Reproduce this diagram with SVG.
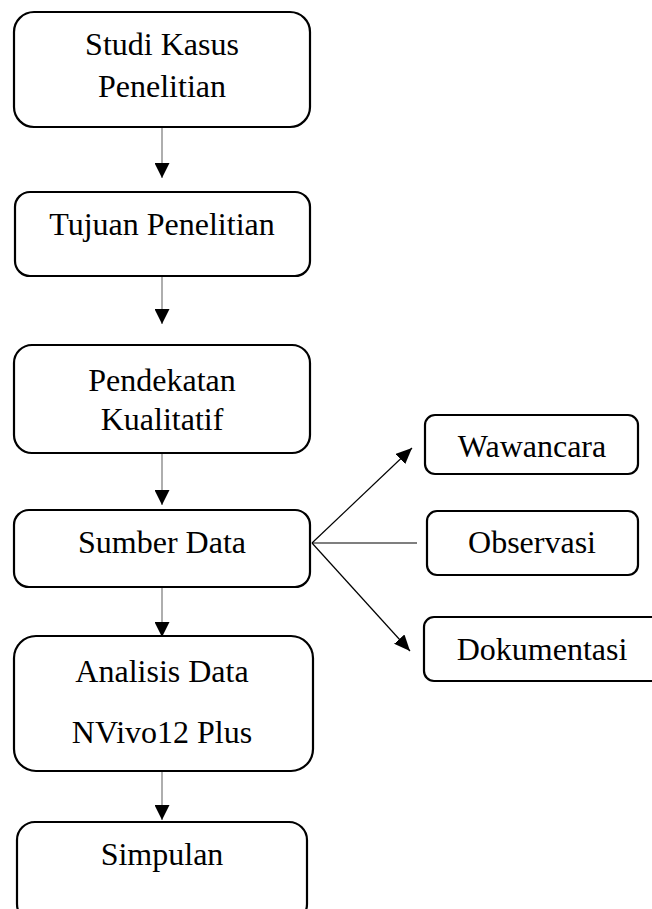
<svg xmlns="http://www.w3.org/2000/svg" width="652" height="909" viewBox="0 0 652 909">
<defs>
<style>
.box{fill:#fff;stroke:#000;stroke-width:2.2}
.t{font-family:"Liberation Serif","Times New Roman",serif;font-size:32px;fill:#000;text-anchor:middle}
.v{stroke:#9a9a9a;stroke-width:1.6;fill:none}
.d{stroke:#000;stroke-width:1.2;fill:none}
</style>
<marker id="ah" viewBox="0 0 15 15" refX="15" refY="7.5" markerWidth="15" markerHeight="15" markerUnits="userSpaceOnUse" orient="auto">
<path d="M0,0 L15,7.5 L0,15 z" fill="#000"/>
</marker>
<marker id="ah2" viewBox="0 0 16 14" refX="16" refY="7" markerWidth="16" markerHeight="14" markerUnits="userSpaceOnUse" orient="auto">
<path d="M0,0 L16,7 L0,14 z" fill="#000"/>
</marker>
</defs>
<g id="connectors">
<line class="v" x1="162" y1="127" x2="162" y2="178" marker-end="url(#ah)"/>
<line class="v" x1="162" y1="276" x2="162" y2="324" marker-end="url(#ah)"/>
<line class="v" x1="162" y1="453" x2="162" y2="505" marker-end="url(#ah)"/>
<line class="v" x1="162" y1="587" x2="162" y2="637" marker-end="url(#ah)"/>
<line class="v" x1="162" y1="771" x2="162" y2="820" marker-end="url(#ah)"/>
<line class="d" x1="312" y1="543" x2="412" y2="448" marker-end="url(#ah2)"/>
<line class="d" x1="312" y1="543" x2="417" y2="543"/>
<line class="d" x1="312" y1="543" x2="410" y2="651" marker-end="url(#ah2)"/>
</g>
<g id="studi">
<rect class="box" x="14" y="12" width="296" height="115" rx="20"/>
<text class="t" x="162" y="55">Studi Kasus</text>
<text class="t" x="162" y="97">Penelitian</text>
</g>
<g id="tujuan">
<rect class="box" x="15" y="192" width="295" height="84" rx="15"/>
<text class="t" x="162" y="235">Tujuan Penelitian</text>
</g>
<g id="pendekatan">
<rect class="box" x="14" y="345" width="296" height="108" rx="18"/>
<text class="t" x="162" y="391">Pendekatan</text>
<text class="t" x="162" y="430">Kualitatif</text>
</g>
<g id="sumber">
<rect class="box" x="14" y="510" width="296" height="77" rx="15"/>
<text class="t" x="162" y="553">Sumber Data</text>
</g>
<g id="analisis">
<rect class="box" x="14" y="636" width="299" height="135" rx="22"/>
<text class="t" x="162" y="682">Analisis Data</text>
<text class="t" x="162" y="743">NVivo12 Plus</text>
</g>
<g id="simpulan">
<rect class="box" x="17" y="822" width="290" height="100" rx="18"/>
<text class="t" x="162" y="865">Simpulan</text>
</g>
<g id="wawancara">
<rect class="box" x="425" y="415" width="213" height="59" rx="10"/>
<text class="t" x="532" y="457">Wawancara</text>
</g>
<g id="observasi">
<rect class="box" x="427" y="511" width="211" height="64" rx="10"/>
<text class="t" x="532" y="553">Observasi</text>
</g>
<g id="dokumentasi">
<rect class="box" x="424" y="617" width="240" height="64" rx="10"/>
<text class="t" x="542" y="660">Dokumentasi</text>
</g>
</svg>
